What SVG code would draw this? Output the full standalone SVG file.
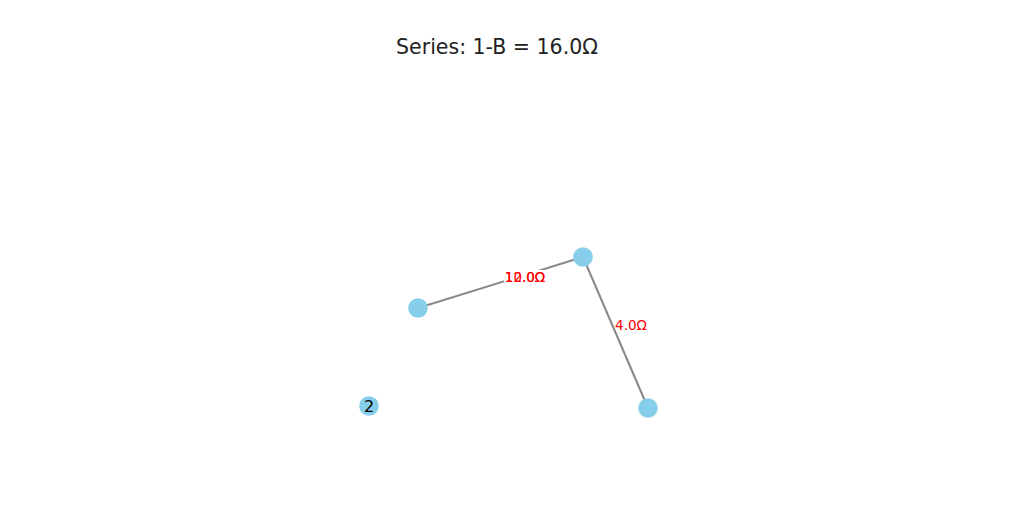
<svg xmlns="http://www.w3.org/2000/svg" width="1021" height="531" viewBox="0 0 1021 531">
<style>
.edge{stroke:#888888;stroke-width:2;fill:none}
.node{fill:#87CEEB}
.elabel{font-family:"DejaVu Sans",sans-serif;font-size:13.5px;fill:#ff0000}
.title{font-family:"DejaVu Sans",sans-serif;font-size:20.5px;fill:#222}
.nlabel{font-family:"DejaVu Sans",sans-serif;font-size:16px;fill:#000}
</style>
<rect width="1021" height="531" fill="#ffffff"/>
<text class="title" x="497" y="54" text-anchor="middle">Series: 1-B = 16.0Ω</text>
<g id="connectors">
<line class="edge" x1="418" y1="308" x2="583" y2="257"/>
<line class="edge" x1="583" y1="257" x2="648" y2="408"/>
<rect x="504" y="270" width="42" height="14" fill="#ffffff"/>
<text class="elabel" x="525" y="282" text-anchor="middle">12.0Ω</text>
<text class="elabel" x="525" y="282" text-anchor="middle">10.0Ω</text>
<text class="elabel" x="631" y="330" text-anchor="middle">4.0Ω</text>
</g>
<g id="node-a"><circle class="node" cx="418" cy="308" r="9.8"/></g>
<g id="node-b"><circle class="node" cx="583" cy="257" r="9.8"/></g>
<g id="node-c"><circle class="node" cx="648" cy="408" r="9.8"/></g>
<g id="node-2"><circle class="node" cx="369" cy="406" r="9.8"/><text class="nlabel" x="369" y="412" text-anchor="middle">2</text></g>
</svg>
